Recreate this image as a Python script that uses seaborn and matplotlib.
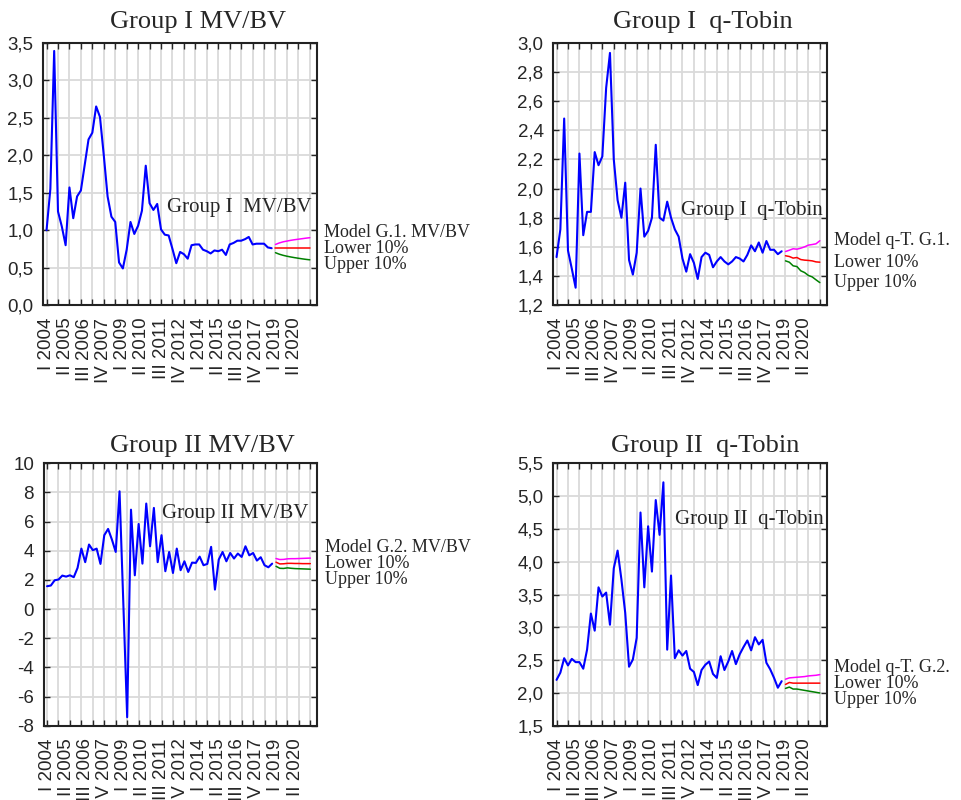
import numpy as np
import matplotlib
matplotlib.use("Agg")
import matplotlib.pyplot as plt
import matplotlib.transforms as mtransforms
from matplotlib.ticker import FuncFormatter
import seaborn as sns

# ─── DATA ───────────────────────────────────────────────────────────────────
QUARTER_LABELS = ["I 2004", "II 2005", "III 2006", "IV 2007", "I 2009", "II 2010",
                  "III 2011", "IV 2012", "I 2014", "II 2015", "III 2016", "IV 2017",
                  "I 2019", "II 2020"]

g1_mvbv = [1.00, 1.55, 3.39, 1.25, 1.05, 0.80, 1.57, 1.16, 1.45, 1.53,
           1.87, 2.21, 2.30, 2.65, 2.51, 2.00, 1.45, 1.18, 1.11, 0.57,
           0.49, 0.74, 1.11, 0.95, 1.06, 1.26, 1.86, 1.36, 1.27, 1.35,
           1.01, 0.94, 0.93, 0.75, 0.56, 0.71, 0.68, 0.62, 0.80, 0.81,
           0.81, 0.74, 0.72, 0.69, 0.73, 0.72, 0.74, 0.67, 0.81, 0.83,
           0.86, 0.86, 0.88, 0.91, 0.81, 0.82, 0.82, 0.82, 0.77, 0.76]
g1_mvbv_model = [0.81, 0.83, 0.845, 0.855, 0.865, 0.873, 0.88, 0.887, 0.894, 0.90]
g1_mvbv_lower = [0.76, 0.76, 0.76, 0.76, 0.76, 0.76, 0.76, 0.76, 0.76, 0.76]
g1_mvbv_upper = [0.70, 0.68, 0.665, 0.653, 0.643, 0.634, 0.626, 0.618, 0.611, 0.605]

g1_qtobin = [1.53, 1.72, 2.48, 1.575, 1.45, 1.32, 2.24, 1.68, 1.84, 1.84,
             2.25, 2.16, 2.22, 2.69, 2.93, 2.20, 1.92, 1.80, 2.04, 1.51,
             1.41, 1.56, 2.00, 1.67, 1.71, 1.80, 2.30, 1.80, 1.78, 1.91,
             1.80, 1.72, 1.67, 1.52, 1.43, 1.55, 1.49, 1.38, 1.53, 1.56,
             1.545, 1.46, 1.50, 1.53, 1.50, 1.48, 1.50, 1.53, 1.52, 1.50,
             1.545, 1.61, 1.57, 1.63, 1.56, 1.64, 1.58, 1.58, 1.55, 1.57]
g1_qtobin_model = [1.568, 1.577, 1.587, 1.584, 1.591, 1.600, 1.612, 1.616, 1.621, 1.642]
g1_qtobin_lower = [1.539, 1.534, 1.523, 1.527, 1.513, 1.509, 1.507, 1.504, 1.497, 1.495]
g1_qtobin_upper = [1.504, 1.495, 1.470, 1.465, 1.436, 1.424, 1.404, 1.394, 1.374, 1.355]

g2_mvbv = [1.57, 1.62, 1.98, 2.03, 2.30, 2.23, 2.32, 2.19, 2.83, 4.15,
           3.22, 4.43, 4.04, 4.15, 3.10, 5.07, 5.50, 4.77, 3.92, 8.08,
           0.33, -7.41, 6.82, 2.32, 5.84, 3.12, 7.24, 4.31, 6.94, 3.22,
           5.07, 2.60, 3.92, 2.48, 4.15, 2.67, 3.28, 2.55, 3.19, 3.17,
           3.60, 3.01, 3.10, 4.27, 1.34, 3.40, 3.92, 3.28, 3.85, 3.47,
           3.81, 3.58, 4.31, 3.69, 3.85, 3.33, 3.56, 3.01, 2.87, 3.12]
g2_mvbv_model = [3.47, 3.40, 3.41, 3.45, 3.46, 3.46, 3.47, 3.48, 3.49, 3.50]
g2_mvbv_lower = [3.22, 3.10, 3.11, 3.14, 3.14, 3.13, 3.13, 3.12, 3.12, 3.12]
g2_mvbv_upper = [2.94, 2.80, 2.79, 2.83, 2.80, 2.78, 2.77, 2.76, 2.75, 2.74]

g2_qtobin = [2.20, 2.31, 2.53, 2.42, 2.52, 2.47, 2.47, 2.37, 2.66, 3.21,
             2.95, 3.61, 3.47, 3.53, 3.04, 3.90, 4.17, 3.73, 3.22, 2.40,
             2.51, 2.84, 4.75, 3.61, 4.54, 3.85, 4.94, 4.41, 5.21, 2.66,
             3.79, 2.53, 2.65, 2.57, 2.64, 2.37, 2.32, 2.12, 2.35, 2.43,
             2.48, 2.29, 2.23, 2.56, 2.35, 2.48, 2.64, 2.44, 2.59, 2.70,
             2.80, 2.65, 2.85, 2.74, 2.81, 2.46, 2.36, 2.23, 2.08, 2.18]
g2_qtobin_model = [2.21, 2.23, 2.235, 2.24, 2.245, 2.25, 2.26, 2.265, 2.27, 2.28]
g2_qtobin_lower = [2.13, 2.16, 2.15, 2.15, 2.15, 2.15, 2.15, 2.15, 2.15, 2.15]
g2_qtobin_upper = [2.07, 2.09, 2.06, 2.06, 2.05, 2.04, 2.03, 2.02, 2.01, 2.00]

# ─── LAYOUT / STYLE ─────────────────────────────────────────────────────────
W, H = 961, 800
SERIF = ["Liberation Serif", "DejaVu Serif"]
SANS = ["Liberation Sans", "DejaVu Sans"]

PANELS = [
    dict(series=g1_mvbv, model=g1_mvbv_model, lower=g1_mvbv_lower, upper=g1_mvbv_upper,
         title="Group I MV/BV", title_xy=(198, 22), inner="Group I  MV/BV", inner_xy=(0.982, 0.372),
         model_label="Model G.1. MV/BV", ylim=(0, 3.5), yticks=np.arange(0, 3.51, 0.5), dec=1,
         rect=(43.3, 42.7)),
    dict(series=g1_qtobin, model=g1_qtobin_model, lower=g1_qtobin_lower, upper=g1_qtobin_upper,
         title="Group I  q-Tobin", title_xy=(703, 22), inner="Group I  q-Tobin", inner_xy=(0.985, 0.36),
         model_label="Model q-T. G.1.", ylim=(1.2, 3.0), yticks=np.arange(1.2, 3.01, 0.2), dec=1,
         rect=(553.3, 42.7)),
    dict(series=g2_mvbv, model=g2_mvbv_model, lower=g2_mvbv_lower, upper=g2_mvbv_upper,
         title="Group II MV/BV", title_xy=(202, 446), inner="Group II MV/BV", inner_xy=(0.969, 0.81),
         model_label="Model G.2. MV/BV", ylim=(-8, 10), yticks=np.arange(-8, 10.1, 2), dec=0,
         rect=(43.8, 463.3)),
    dict(series=g2_qtobin, model=g2_qtobin_model, lower=g2_qtobin_lower, upper=g2_qtobin_upper,
         title="Group II  q-Tobin", title_xy=(705, 446), inner="Group II  q-Tobin", inner_xy=(0.988, 0.787),
         model_label="Model q-T. G.2.", ylim=(1.5, 5.5), yticks=np.arange(1.5, 5.51, 0.5), dec=1,
         rect=(553.3, 463.3)),
]
AX_W, AX_H = 273.4, 262.5


def draw_panel(fig, p):
    left, top = p["rect"]
    ax = fig.add_axes([left / W, 1 - (top + AX_H) / H, AX_W / W, AX_H / H])

    n = len(p["series"])
    x_hist = np.arange(n)
    x_fc = np.arange(n, n + len(p["model"]))
    sns.lineplot(x=x_hist, y=p["series"], ax=ax, color="#0000ff", lw=1.5)
    sns.lineplot(x=x_fc, y=p["model"], ax=ax, color="#ff00ff", lw=1.1)
    sns.lineplot(x=x_fc, y=p["lower"], ax=ax, color="#ff0000", lw=1.1)
    sns.lineplot(x=x_fc, y=p["upper"], ax=ax, color="#008000", lw=1.1)

    ax.set_xlim(-0.85, 70.8)
    ax.set_ylim(*p["ylim"])

    # grid / tick marks every 3 quarters, labels every 5 quarters
    ax.xaxis.remove_overlapping_locs = False
    ax.set_xticks(np.arange(0, 70, 3))
    ax.set_xticks(np.arange(0, 5 * len(QUARTER_LABELS), 5), QUARTER_LABELS, minor=True)
    ax.tick_params(axis="x", which="major", labelbottom=False, direction="in",
                   length=4, width=1, top=True, bottom=True)
    ax.tick_params(axis="x", which="minor", length=0, labelsize=13.5, rotation=90, pad=9)
    ax.set_yticks(p["yticks"])
    fmt = "{:.%df}" % p["dec"]
    ax.yaxis.set_major_formatter(FuncFormatter(lambda v, _: fmt.format(v).replace(".", ",")))
    ax.tick_params(axis="y", direction="in", length=4, width=1, left=True, right=True,
                   labelsize=13.5, pad=7)
    for lab in ax.get_xticklabels(minor=True) + ax.get_yticklabels():
        lab.set_fontfamily(SANS)

    ax.grid(True, which="major", color="#dadada", lw=1.3)
    ax.set_axisbelow(True)
    for s in ax.spines.values():
        s.set_color("#222222")
        s.set_linewidth(1.5)
    ax.set_xlabel("")
    ax.set_ylabel("")

    fig.text(p["title_xy"][0] / W, 1 - p["title_xy"][1] / H, p["title"], ha="center",
             va="center", fontsize=19, family=SERIF)
    ax.text(*p["inner_xy"], p["inner"], transform=ax.transAxes, ha="right", va="center",
            fontsize=15, family=SERIF)

    # end labels next to the forecast lines, spread so they don't overlap
    gap = 16
    xe = x_fc[-1]
    ys = [ax.transData.transform((xe, v[-1]))[1] for v in (p["model"], p["lower"], p["upper"])]
    mid = ys[1]
    pix = [max(ys[0], mid + gap), mid, min(ys[2], mid - gap)]
    inv = ax.transData.inverted()
    trans = mtransforms.blended_transform_factory(ax.transAxes, ax.transData)
    for y_pix, txt in zip(pix, [p["model_label"], "Lower 10%", "Upper 10%"]):
        yd = inv.transform((0, y_pix))[1]
        ax.text(1.027, yd, txt, transform=trans, ha="left", va="center",
                fontsize=13, family=SERIF, clip_on=False)
    return ax


def main():
    sns.set_style("white")
    plt.rcParams["font.family"] = SANS
    fig = plt.figure(figsize=(W / 100, H / 100), dpi=100)
    for p in PANELS:
        draw_panel(fig, p)
    fig.savefig("out.png", dpi=100)
    plt.close(fig)


if __name__ == "__main__":
    main()
